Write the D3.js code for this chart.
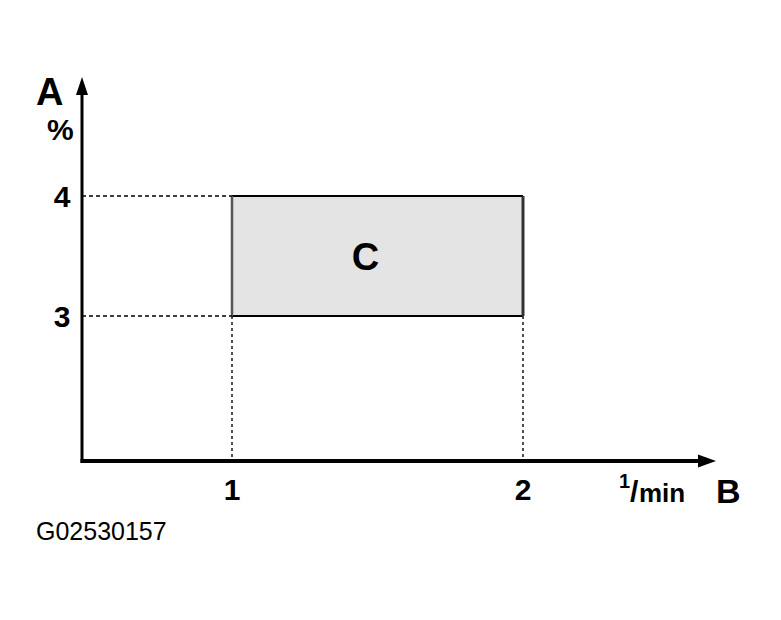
<!DOCTYPE html>
<html>
<head>
<meta charset="utf-8">
<script src="https://cdn.jsdelivr.net/npm/d3@7"></script>
<style>
  html, body { margin: 0; padding: 0; background: #fff; }
  svg { display: block; }
  text { font-family: "Liberation Sans", Arial, Helvetica, sans-serif; fill: #000; }
</style>
</head>
<body>
<svg id="chart" width="781" height="620"></svg>
<script>
// ---- data ----
const xTicks = [1, 2];
const yTicks = [3, 4];
const regionX = [1, 2];
const regionY = [3, 4];
const regionLabel = "C";
const yAxisLabel = "A";
const yUnitLabel = "%";
const xAxisLabel = "B";
const xUnitSup = "1";
const xUnitSlash = "/";
const xUnitRest = "min";
const figureId = "G02530157";

// ---- layout ----
const W = 781, H = 620;
const originX = 82, originY = 461;
const xAxisEnd = 716, yAxisEnd = 77;

const svg = d3.select("#chart");
svg.append("rect").attr("width", W).attr("height", H).attr("fill", "#fff");

const x = d3.scaleLinear().domain([1, 2]).range([232, 523]);
const y = d3.scaleLinear().domain([3, 4]).range([316, 196]);

// region box
const rx0 = x(d3.min(regionX)), rx1 = x(d3.max(regionX));
const ry0 = y(d3.max(regionY)), ry1 = y(d3.min(regionY));
svg.append("rect")
  .attr("x", rx0).attr("y", ry0)
  .attr("width", rx1 - rx0).attr("height", ry1 - ry0)
  .attr("fill", "#e4e4e4");
[ry0, ry1].forEach(yy => {
  svg.append("line").attr("x1", rx0).attr("x2", rx1).attr("y1", yy).attr("y2", yy)
    .attr("stroke", "#000").attr("stroke-width", 2);
});
svg.append("line").attr("x1", rx0).attr("x2", rx0).attr("y1", ry0).attr("y2", ry1)
  .attr("stroke", "#555").attr("stroke-width", 2.5);
svg.append("line").attr("x1", rx1).attr("x2", rx1).attr("y1", ry0).attr("y2", ry1)
  .attr("stroke", "#333").attr("stroke-width", 3);

svg.append("text")
  .attr("x", (rx0 + rx1) / 2 - 12).attr("y", (ry0 + ry1) / 2)
  .attr("dy", "0.38em")
  .attr("text-anchor", "middle")
  .attr("font-size", 38).attr("font-weight", "bold")
  .text(regionLabel);

// dashed guide lines
yTicks.forEach(v => {
  svg.append("line")
    .attr("x1", originX).attr("x2", rx0).attr("y1", y(v)).attr("y2", y(v))
    .attr("stroke", "#000").attr("stroke-width", 1.3).attr("stroke-dasharray", "4,3");
});
xTicks.forEach(v => {
  svg.append("line")
    .attr("x1", x(v)).attr("x2", x(v)).attr("y1", ry1).attr("y2", originY)
    .attr("stroke", "#222").attr("stroke-width", 1.6).attr("stroke-dasharray", "3,3");
});

// axes
svg.append("line").attr("x1", originX - 1.5).attr("x2", xAxisEnd - 14)
  .attr("y1", originY).attr("y2", originY)
  .attr("stroke", "#000").attr("stroke-width", 4);
svg.append("line").attr("x1", originX).attr("x2", originX)
  .attr("y1", originY + 2).attr("y2", yAxisEnd + 14)
  .attr("stroke", "#000").attr("stroke-width", 3);
svg.append("path")
  .attr("d", `M${xAxisEnd},${originY} L${xAxisEnd - 18},${originY - 6.5} L${xAxisEnd - 18},${originY + 6.5} Z`)
  .attr("fill", "#000");
svg.append("path")
  .attr("d", `M${originX},${yAxisEnd} L${originX - 6},${yAxisEnd + 18} L${originX + 6},${yAxisEnd + 18} Z`)
  .attr("fill", "#000");

// tick labels
svg.selectAll(".ytick").data(yTicks).enter().append("text")
  .attr("class", "ytick")
  .attr("x", 62).attr("y", d => y(d)).attr("dy", "0.36em")
  .attr("text-anchor", "middle")
  .attr("font-size", 30).attr("font-weight", "bold")
  .text(d => d);
svg.selectAll(".xtick").data(xTicks).enter().append("text")
  .attr("class", "xtick")
  .attr("x", d => x(d)).attr("y", 500)
  .attr("text-anchor", "middle")
  .attr("font-size", 30).attr("font-weight", "bold")
  .text(d => d);

// axis titles
svg.append("text").attr("x", 36).attr("y", 105)
  .attr("font-size", 38).attr("font-weight", "bold").text(yAxisLabel);
svg.append("text").attr("x", 47).attr("y", 140)
  .attr("font-size", 30).attr("font-weight", "bold").text(yUnitLabel);
svg.append("text").attr("x", 716).attr("y", 503)
  .attr("font-size", 34).attr("font-weight", "bold").text(xAxisLabel);

// unit 1/min
svg.append("text").attr("x", 619).attr("y", 488)
  .attr("font-size", 20).attr("font-weight", "bold").text(xUnitSup);
svg.append("text").attr("x", 630).attr("y", 502)
  .attr("font-size", 30).attr("font-weight", "bold").text(xUnitSlash);
svg.append("text").attr("x", 639).attr("y", 502)
  .attr("font-size", 26).attr("font-weight", "bold").text(xUnitRest);

// figure id
svg.append("text").attr("x", 36).attr("y", 540)
  .attr("font-size", 25).text(figureId);
</script>
</body>
</html>
